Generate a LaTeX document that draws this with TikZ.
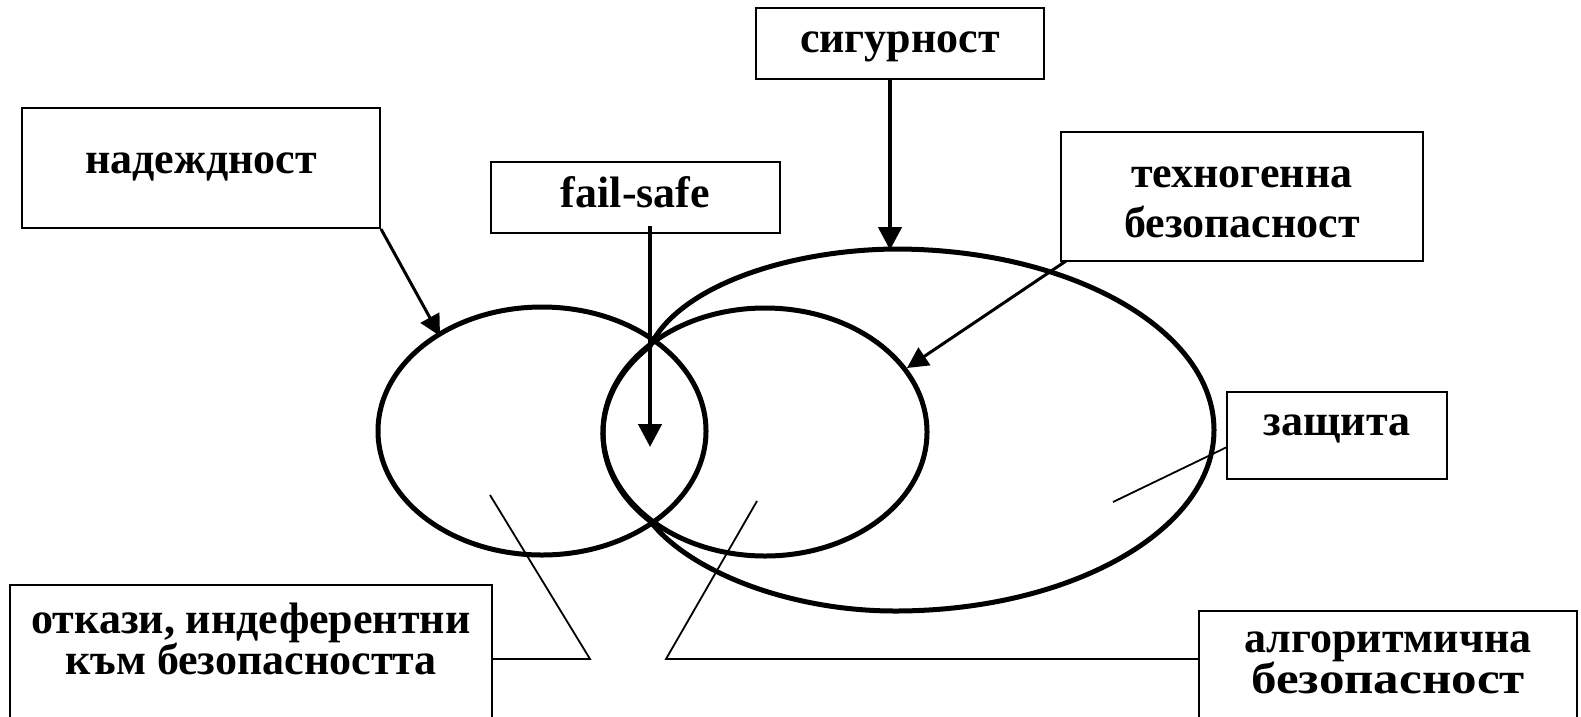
\documentclass[tikz,border=0pt]{standalone}
\usepackage{fontspec}
\setmainfont{Liberation Serif}
\usetikzlibrary{arrows.meta,calc}
% two centred lines with a fixed distance between their baselines;
% the box's reference point is the baseline of the first line
\newcommand\pairlines[3]{\vtop{\baselineskip=#1\relax\lineskiplimit=-\maxdimen
  \halign{\hfil##\hfil\cr#2\cr#3\cr}}}

\begin{document}
\begin{tikzpicture}[x=1pt,y=-1pt,
  box/.style={draw, line width=2pt, inner sep=0pt, anchor=base,
    font=\fontsize{44}{50}\selectfont\bfseries},
  ring/.style={line width=5pt, line join=round},
  pointer/.style={line width=4.5pt, -{Triangle[length=23pt,width=23pt]}},
  slant/.style={line width=3pt, -{Triangle[length=21pt,width=21pt]}},
  lead/.style={line width=1.8pt},
]
\useasboundingbox (0,0) rectangle (1581,716);
\clip (0,0) rectangle (1581,716);

% labelled boxes (placed at the baseline of their first text line)
\node[box, minimum width=358pt, text height=65pt, text depth=55pt] (nad) at (201,173) {надеждност};
\node[box, minimum width=289pt, text height=45pt, text depth=26pt] (fs) at (635.5,207) {fail-safe};
\node[box, minimum width=288pt, text height=44pt, text depth=27pt] (sg) at (900,52) {сигурност};
\node[box, minimum width=362pt, text height=55pt, text depth=74pt] (tb) at (1242,187)
  {\pairlines{50pt}{техногенна}{безопасност}};
\node[box, minimum width=220pt, text height=43pt, text depth=44pt] (zs) at (1337,435) {защита};
\node[box, minimum width=482pt, text height=48pt, text depth=127pt] (ot) at (251,633)
  {\pairlines{41pt}{откази, индеферентни}{към безопасността}};
\node[box, minimum width=378pt, text height=41pt, text depth=108pt] (al) at (1388,652)
  {\pairlines{41pt}{алгоритмична}{\scalebox{1.16}[1]{безопасност}}};

% the three overlapping regions
\draw[ring] (542,431) ellipse [x radius=164pt, y radius=124pt];
\draw[ring] (765,432) ellipse [x radius=162pt, y radius=124pt];
\draw[ring] (650,521) arc[start angle=224.8, end angle=135.2, x radius=162pt, y radius=124pt]
  .. controls (680,285) and (790,250) .. (895,249)
  arc[start angle=90, end angle=-90, x radius=319pt, y radius=181pt]
  .. controls (790,611) and (690,572) .. (650,521) -- cycle;

% ends of the connectors
\coordinate (nadTip) at (440,336);
\coordinate (fsTip) at (650,447);
\coordinate (sgTip) at (890,250);
\coordinate (tbTip) at (907,368);
\coordinate (zsEnd) at (1113,502);
\coordinate (otBend) at (590,659);
\coordinate (otEnd) at (490,495);
\coordinate (alBend) at (666,659);
\coordinate (alEnd) at (757,501);

% arrows
\draw[slant] (nad.south east) -- (nadTip);
\draw[pointer] ($(fsTip |- fs.south)+(0,-8)$) -- (fsTip);
\draw[pointer] (sgTip |- sg.south) -- (sgTip);
\draw[slant] ($(tb.south west)+(6,-1)$) -- (tbTip);

% plain leader lines
\draw[lead] ($(zs.west)+(0,12)$) -- (zsEnd);
\draw[lead] (ot.east |- otBend) -- (otBend) -- (otEnd);
\draw[lead] (al.west |- alBend) -- (alBend) -- (alEnd);
\end{tikzpicture}
\end{document}
